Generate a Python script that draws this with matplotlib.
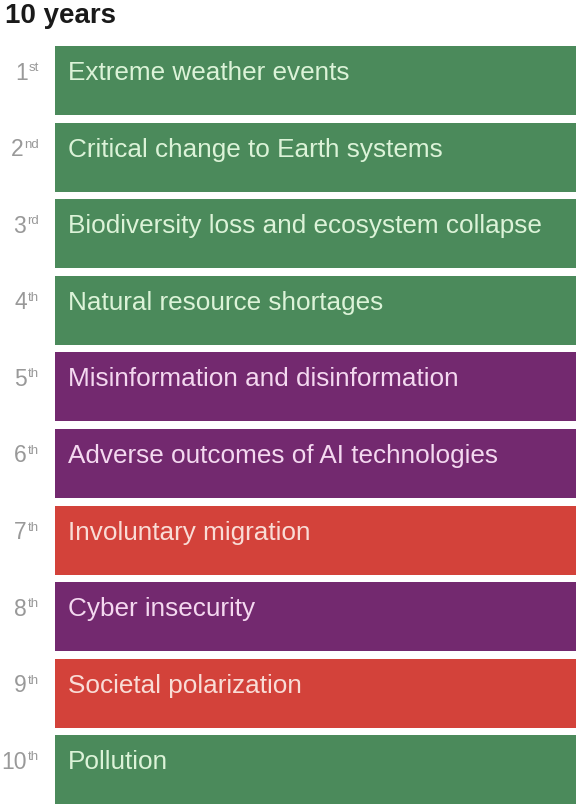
import matplotlib
matplotlib.use('Agg')
import matplotlib.pyplot as plt

# ── Data ──────────────────────────────────────────────────────────────────────
ranks = ['1', '2', '3', '4', '5', '6', '7', '8', '9', '10']
suffixes = ['st', 'nd', 'rd', 'th', 'th', 'th', 'th', 'th', 'th', 'th']
risks = [
    'Extreme weather events',
    'Critical change to Earth systems',
    'Biodiversity loss and ecosystem collapse',
    'Natural resource shortages',
    'Misinformation and disinformation',
    'Adverse outcomes of AI technologies',
    'Involuntary migration',
    'Cyber insecurity',
    'Societal polarization',
    'Pollution',
]
categories = ['env', 'env', 'env', 'env', 'tech', 'tech', 'soc', 'tech', 'soc', 'env']

# ── Styles ────────────────────────────────────────────────────────────────────
fill = {'env': '#4b8a5b', 'tech': '#73296f', 'soc': '#d3423a'}
ink = {'env': '#dcf3d8', 'tech': '#f4d8f0', 'soc': '#f9dcd6'}
RANK_GREY = '#999999'

plt.rcParams['font.family'] = ['Liberation Sans', 'DejaVu Sans']

W, H = 577, 806
fig = plt.figure(figsize=(W / 100, H / 100), dpi=100)
ax = fig.add_axes([0, 0, 1, 1])
ax.set_xlim(0, W)
ax.set_ylim(H, 0)
ax.axis('off')

top0, pitch, bar_h = 46, 76.6, 69
bar_left, bar_right = 55, 576

ys = [top0 + i * pitch + bar_h / 2 for i in range(len(risks))]
ax.barh(ys, bar_right - bar_left, left=bar_left, height=bar_h,
        color=[fill[c] for c in categories], edgecolor='none')

renderer = fig.canvas.get_renderer()
for y, r, s, label, c in zip(ys, ranks, suffixes, risks, categories):
    ty = y - bar_h / 2 + 27
    ax.text(68, ty, label, fontsize=18.8, color=ink[c], va='center', ha='left')
    sup = ax.text(39, ty - 5, s, fontsize=9.5, color=RANK_GREY, va='center', ha='right')
    sup_w = sup.get_window_extent(renderer).width
    ax.text(39 - sup_w - 1, ty, r, fontsize=16.5, color=RANK_GREY,
            va='center', ha='right')

ax.text(5, 16, '10 years', fontsize=20, fontweight='bold', color='#1a1a1a',
        va='center', ha='left')

fig.savefig('out.png', dpi=100, facecolor='white')
